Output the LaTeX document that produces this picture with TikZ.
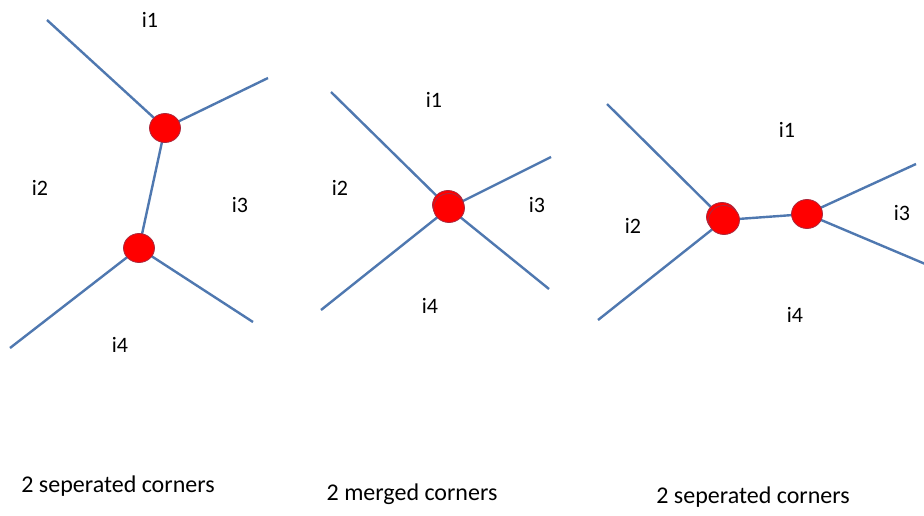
\documentclass[tikz,border=0pt]{standalone}
\usepackage{fontspec}
\setmainfont{Carlito}
\usetikzlibrary{shapes.geometric}
\definecolor{edgeblue}{RGB}{79,120,176}
\definecolor{dotred}{RGB}{255,0,0}
\definecolor{dotrim}{RGB}{170,40,60}
\begin{document}
\begin{tikzpicture}[x=1pt,y=-1pt,
  edge/.style={draw=edgeblue, line width=2.4pt},
  dot/.style={ellipse, fill=dotred, draw=dotrim, line width=0.8pt, minimum width=31pt, minimum height=29pt, inner sep=0pt},
  lab/.style={font=\fontsize{22}{26}\selectfont, inner sep=0pt},
  captxt/.style={font=\fontsize{24}{28}\selectfont, inner sep=0pt}]
\useasboundingbox (0,0) rectangle (924,515);
\fill[white] (0,0) rectangle (924,515);
% panel 1
\coordinate (a1) at (47,20);
\coordinate (a2) at (268,78);
\coordinate (a3) at (10,348);
\coordinate (a4) at (253,322);
\coordinate (Ac) at (165,128);
\coordinate (Bc) at (139,248);
\draw[edge] (a1) -- (Ac);
\draw[edge] (Ac) -- (a2);
\draw[edge] (Ac) -- (Bc);
\draw[edge] (Bc) -- (a3);
\draw[edge] (Bc) -- (a4);
\node[dot] (A) at (Ac) {};
\node[dot] (B) at (Bc) {};
\node[lab] (p1i1) at (150,20) {i1};
\node[lab] (p1i2) at (40,188) {i2};
\node[lab] (p1i3) at (240,205) {i3};
\node[lab] (p1i4) at (120,345) {i4};
% panel 2
\coordinate (b1) at (331,92);
\coordinate (b2) at (551,157);
\coordinate (b3) at (321,310);
\coordinate (b4) at (549,289);
\coordinate (Mc) at (449,208);
\draw[edge] (b1) -- (Mc);
\draw[edge] (Mc) -- (b2);
\draw[edge] (Mc) -- (b3);
\draw[edge] (Mc) -- (b4);
\node[dot] (M2) at (448,205) {};
\node[dot] (M) at (Mc) {};
\node[lab] (p2i1) at (434,100) {i1};
\node[lab] (p2i2) at (340,188) {i2};
\node[lab] (p2i3) at (537,205) {i3};
\node[lab] (p2i4) at (430,306) {i4};
% panel 3
\coordinate (c1) at (607,104);
\coordinate (c2) at (598,320);
\coordinate (c3) at (916,164);
\coordinate (c4) at (930,266);
\coordinate (Cc) at (724,220);
\coordinate (Dc) at (807,214);
\draw[edge] (c1) -- (Cc);
\draw[edge] (Cc) -- (c2);
\draw[edge] (Cc) -- (Dc);
\draw[edge] (Dc) -- (c3);
\draw[edge] (Dc) -- (c4);
\node[dot] (C2) at (722,217) {};
\node[dot] (C) at (Cc) {};
\node[dot] (D) at (Dc) {};
\node[lab] (p3i1) at (787,130) {i1};
\node[lab] (p3i2) at (633,226) {i2};
\node[lab] (p3i3) at (902,213) {i3};
\node[lab] (p3i4) at (795,315) {i4};
% captions
\node[captxt] (t1) at (118,486) {2 seperated corners};
\node[captxt] (t2) at (412,494) {2 merged corners};
\node[captxt] (t3) at (753,497) {2 seperated corners};
\end{tikzpicture}
\end{document}
